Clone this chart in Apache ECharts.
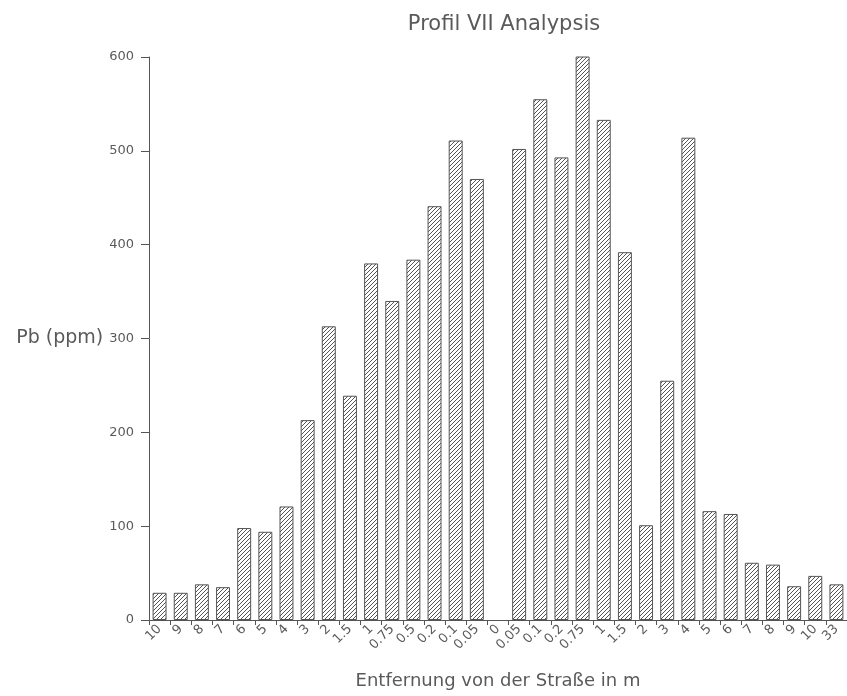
<!DOCTYPE html>
<html>
<head>
<meta charset="utf-8">
<script src="https://cdn.jsdelivr.net/npm/echarts@6/dist/echarts.min.js"></script>
<style>
html,body{margin:0;padding:0;background:#fff;}
#chart{width:847px;height:696px;}
</style>
</head>
<body>
<div id="chart"></div>
<script>
// Data
const categories = ['10','9','8','7','6','5','4','3','2','1.5','1','0.75','0.5','0.2','0.1','0.05','0',
  '0.05','0.1','0.2','0.75','1','1.5','2','3','4','5','6','7','8','9','10','33'];
const pbValues = [29,29,38,35,98,94,121,213,313,239,380,340,384,441,511,470,null,
  502,555,493,602,533,392,101,255,514,116,113,61,59,36,47,38];
const yTicks = {min: 0, max: 600, interval: 100};
const titleText = 'Profil VII Analypsis';
const xName = 'Entfernung von der Straße in m';
const yName = 'Pb (ppm)';

// Hatch pattern
function hatch() {
  const c = document.createElement('canvas');
  const s = 4;
  c.width = s; c.height = s;
  const ctx = c.getContext('2d');
  ctx.fillStyle = '#ffffff';
  ctx.fillRect(0, 0, s, s);
  ctx.strokeStyle = '#555555';
  ctx.lineWidth = 1;
  ctx.beginPath();
  ctx.moveTo(-1, s + 1); ctx.lineTo(s + 1, -1);
  ctx.moveTo(-1, 1); ctx.lineTo(1, -1);
  ctx.moveTo(s - 1, s + 1); ctx.lineTo(s + 1, s - 1);
  ctx.stroke();
  return c;
}

const FONT = 'DejaVu Sans';
const TXT = '#5a5a5a';
const chart = echarts.init(document.getElementById('chart'), null, {renderer: 'canvas'});
chart.setOption({
  animation: false,
  backgroundColor: '#ffffff',
  title: {
    text: titleText,
    left: 499,
    top: 9,
    textAlign: 'center',
    textStyle: {fontFamily: FONT, fontSize: 21, fontWeight: 'normal', color: TXT}
  },
  grid: {left: 149, top: 57, width: 700, height: 563},
  xAxis: {
    type: 'category',
    data: categories,
    name: xName,
    nameLocation: 'middle',
    nameGap: 52,
    nameTextStyle: {fontFamily: FONT, fontSize: 18, color: TXT},
    axisLine: {lineStyle: {color: '#555', width: 1}},
    axisTick: {show: true, length: 5, lineStyle: {color: '#555'}},
    axisLabel: {rotate: 45, fontFamily: FONT, fontSize: 13, color: TXT, margin: 7, interval: 0}
  },
  yAxis: {
    type: 'value',
    min: yTicks.min,
    max: yTicks.max,
    interval: yTicks.interval,
    name: yName,
    nameLocation: 'middle',
    nameRotate: 0,
    nameGap: 35,
    nameTextStyle: {fontFamily: FONT, fontSize: 19, color: TXT},
    splitLine: {show: false},
    axisLine: {show: true, lineStyle: {color: '#555', width: 1}},
    axisTick: {show: true, length: 8, lineStyle: {color: '#555'}},
    axisLabel: {fontFamily: FONT, fontSize: 13, color: TXT, margin: 15}
  },
  series: [{
    type: 'bar',
    data: pbValues,
    barWidth: '66%',
    itemStyle: {
      color: {image: hatch(), repeat: 'repeat'},
      borderColor: '#555',
      borderWidth: 1
    }
  }]
});
</script>
</body>
</html>
